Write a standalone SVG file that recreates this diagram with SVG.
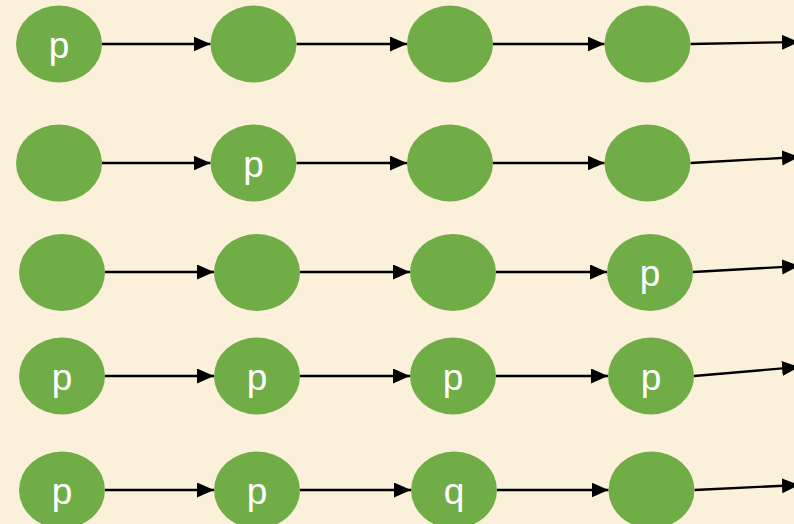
<svg xmlns="http://www.w3.org/2000/svg" width="794" height="524" viewBox="0 0 794 524">
<defs>
<style>
.n{fill:#70AD47}
.t{fill:#fff;font-family:"Liberation Sans",Arial,sans-serif;font-size:37px;text-anchor:middle}
.c{stroke:#000;stroke-width:2.3;fill:none;marker-end:url(#ah)}
</style>
<marker id="ah" markerUnits="userSpaceOnUse" markerWidth="18" markerHeight="16" refX="17" refY="7.5" orient="auto" viewBox="0 0 18 16">
<path d="M0,0 L17,7.5 L0,15 z" fill="#000"/>
</marker>
</defs>
<rect width="794" height="524" fill="#FBF0D9"/>
<g id="connectors">
<line class="c" x1="102" y1="44" x2="210.5" y2="44"/>
<line class="c" x1="296.5" y1="44" x2="407" y2="44"/>
<line class="c" x1="493" y1="44" x2="604.5" y2="44"/>
<line class="c" x1="690.5" y1="44" x2="799" y2="42"/>
<line class="c" x1="102" y1="163" x2="210.5" y2="163"/>
<line class="c" x1="296.5" y1="163" x2="407" y2="163"/>
<line class="c" x1="493" y1="163" x2="604.5" y2="163"/>
<line class="c" x1="690.5" y1="163" x2="799" y2="157"/>
<line class="c" x1="105" y1="272" x2="214" y2="272"/>
<line class="c" x1="300" y1="272" x2="410" y2="272"/>
<line class="c" x1="496" y1="272" x2="607" y2="272"/>
<line class="c" x1="693" y1="272" x2="799" y2="266"/>
<line class="c" x1="105" y1="376" x2="214" y2="376"/>
<line class="c" x1="300" y1="376" x2="410" y2="376"/>
<line class="c" x1="496" y1="376" x2="608" y2="376"/>
<line class="c" x1="694" y1="376" x2="799" y2="367"/>
<line class="c" x1="105" y1="490" x2="214" y2="490"/>
<line class="c" x1="300" y1="490" x2="411" y2="490"/>
<line class="c" x1="497" y1="490" x2="608.5" y2="490"/>
<line class="c" x1="694.5" y1="490" x2="799" y2="485"/>
</g>
<g id="r1n1"><ellipse class="n" cx="59" cy="44" rx="43" ry="38.5"/><text class="t" x="59" y="57.5">p</text></g>
<g id="r1n2"><ellipse class="n" cx="253.5" cy="44" rx="43" ry="38.5"/></g>
<g id="r1n3"><ellipse class="n" cx="450" cy="44" rx="43" ry="38.5"/></g>
<g id="r1n4"><ellipse class="n" cx="647.5" cy="44" rx="43" ry="38.5"/></g>
<g id="r2n1"><ellipse class="n" cx="59" cy="163" rx="43" ry="38.5"/></g>
<g id="r2n2"><ellipse class="n" cx="253.5" cy="163" rx="43" ry="38.5"/><text class="t" x="253.5" y="176.5">p</text></g>
<g id="r2n3"><ellipse class="n" cx="450" cy="163" rx="43" ry="38.5"/></g>
<g id="r2n4"><ellipse class="n" cx="647.5" cy="163" rx="43" ry="38.5"/></g>
<g id="r3n1"><ellipse class="n" cx="62" cy="272.5" rx="43" ry="38.5"/></g>
<g id="r3n2"><ellipse class="n" cx="257" cy="272.5" rx="43" ry="38.5"/></g>
<g id="r3n3"><ellipse class="n" cx="453" cy="272.5" rx="43" ry="38.5"/></g>
<g id="r3n4"><ellipse class="n" cx="650" cy="272.5" rx="43" ry="38.5"/><text class="t" x="650" y="286">p</text></g>
<g id="r4n1"><ellipse class="n" cx="62" cy="376" rx="43" ry="38.5"/><text class="t" x="62" y="389.5">p</text></g>
<g id="r4n2"><ellipse class="n" cx="257" cy="376" rx="43" ry="38.5"/><text class="t" x="257" y="389.5">p</text></g>
<g id="r4n3"><ellipse class="n" cx="453" cy="376" rx="43" ry="38.5"/><text class="t" x="453" y="389.5">p</text></g>
<g id="r4n4"><ellipse class="n" cx="651" cy="376" rx="43" ry="38.5"/><text class="t" x="651" y="389.5">p</text></g>
<g id="r5n1"><ellipse class="n" cx="62" cy="490" rx="43" ry="38.5"/><text class="t" x="62" y="503.5">p</text></g>
<g id="r5n2"><ellipse class="n" cx="257" cy="490" rx="43" ry="38.5"/><text class="t" x="257" y="503.5">p</text></g>
<g id="r5n3"><ellipse class="n" cx="454" cy="490" rx="43" ry="38.5"/><text class="t" x="454" y="503.5">q</text></g>
<g id="r5n4"><ellipse class="n" cx="651.5" cy="490" rx="43" ry="38.5"/></g>
</svg>
